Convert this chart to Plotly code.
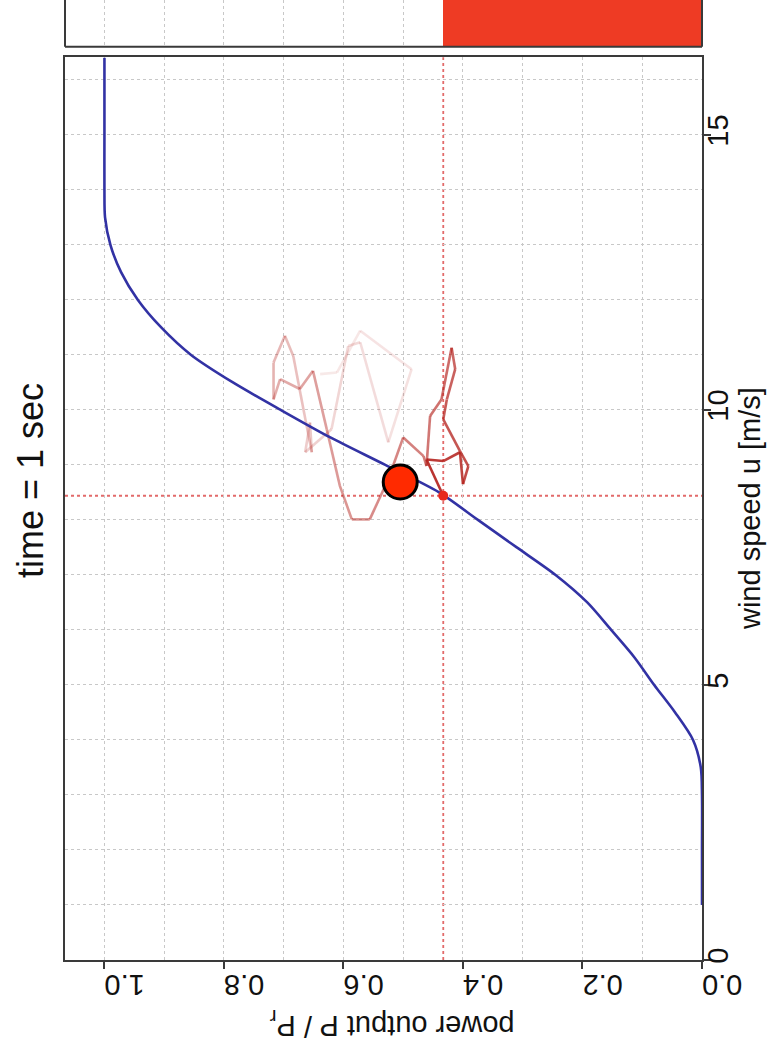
import plotly.graph_objects as go

# Turbine power curve: wind speed [m/s] vs normalised power output P / P_r
curve_wind = [1, 2, 3, 3.5, 4, 4.5, 5, 5.5, 6, 6.5, 7, 7.5, 8, 8.5, 9, 9.5,
              10, 10.5, 11, 11.5, 12, 12.5, 13, 13.5, 14, 15, 16, 16.4]
curve_power = [0, 0, 0, 0.002, 0.015, 0.045, 0.08, 0.113, 0.152, 0.192, 0.245, 0.31,
               0.375, 0.44, 0.53, 0.622, 0.705, 0.785, 0.855, 0.905, 0.944, 0.972,
               0.99, 0.999, 1.0, 1.0, 1.0, 1.0]

# Recent operating trajectory, oldest sample first
trail_wind = [10.65, 10.68, 11.44, 10.74, 9.41, 11.23, 11.16, 9.65, 9.23, 9.77,
              9.23, 10.01, 10.98, 11.35, 10.86, 10.19, 10.56, 10.38, 10.71, 9.65,
              8.62, 8.01, 8.01, 8.74, 9.50, 9.16, 8.98, 9.89, 10.19, 11.13,
              10.74, 10.19, 9.83, 9.25, 8.98, 8.65, 9.23, 9.07, 9.10, 8.44]
trail_power = [0.639, 0.611, 0.572, 0.486, 0.525, 0.572, 0.592, 0.620, 0.664, 0.656,
               0.653, 0.667, 0.684, 0.698, 0.717, 0.717, 0.706, 0.673, 0.651, 0.628,
               0.606, 0.586, 0.556, 0.525, 0.500, 0.466, 0.461, 0.455, 0.436, 0.419,
               0.413, 0.427, 0.433, 0.405, 0.391, 0.400, 0.405, 0.433, 0.461, 0.433]

# Current state
wind_now = 8.44
power_now = 0.433
measured_wind = 8.69
measured_power = 0.505

POWER_RANGE = [1.066, 0.0]
WIND_RANGE = [0.0, 16.41]
PANEL_TOP = 0.9403
GAUGE_BOTTOM = 0.9514
GRID = "#c8c8c8"
FRAME = "#3a3a3a"
FONT = "Liberation Sans, Arial, sans-serif"

fig = go.Figure()

# Power level gauge above the panel
fig.add_trace(go.Bar(
    x=[power_now], y=[0.5], orientation="h", width=1.0,
    marker=dict(color="#ee3b24", line=dict(width=0)),
    xaxis="x2", yaxis="y2", showlegend=False, hoverinfo="skip",
))

# Fading trail: one segment per step, opacity grows towards the present
n = len(trail_wind)
for i in range(n - 1):
    a = 0.10 + 0.82 * (i / (n - 2)) ** 1.2
    fig.add_trace(go.Scatter(
        x=trail_power[i:i + 2], y=trail_wind[i:i + 2], mode="lines",
        line=dict(color=f"rgba(180,35,30,{a:.3f})", width=2.6),
        showlegend=False, hoverinfo="skip",
    ))

# Power curve
fig.add_trace(go.Scatter(
    x=curve_power, y=curve_wind, mode="lines",
    line=dict(color="#3232a4", width=2.6, shape="spline", smoothing=0.8),
    showlegend=False,
))

# Operating point on the curve
fig.add_trace(go.Scatter(
    x=[power_now], y=[wind_now], mode="markers",
    marker=dict(size=10, color="#e8281c"), showlegend=False,
))

# Measured point
fig.add_trace(go.Scatter(
    x=[measured_power], y=[measured_wind], mode="markers",
    marker=dict(size=34, color="#ff2a00", line=dict(color="black", width=3)),
    showlegend=False,
))

shapes = [
    dict(type="line", xref="x", yref="paper", x0=power_now, x1=power_now, y0=0, y1=PANEL_TOP,
         line=dict(color="#e26a6a", width=1.8, dash="dot"), layer="below"),
    dict(type="line", xref="paper", yref="y", x0=0, x1=1, y0=wind_now, y1=wind_now,
         line=dict(color="#e26a6a", width=1.8, dash="dot"), layer="below"),
    # gauge frame (left, right, bottom)
    dict(type="line", xref="paper", yref="paper", x0=0, x1=0, y0=GAUGE_BOTTOM, y1=1.02,
         line=dict(color=FRAME, width=2)),
    dict(type="line", xref="paper", yref="paper", x0=1, x1=1, y0=GAUGE_BOTTOM, y1=1.02,
         line=dict(color=FRAME, width=2)),
    dict(type="line", xref="paper", yref="paper", x0=0, x1=1, y0=GAUGE_BOTTOM, y1=GAUGE_BOTTOM,
         line=dict(color=FRAME, width=2)),
]

annotations = [
    dict(text="time = 1 sec", xref="paper", yref="paper", x=-0.055, y=0.5,
         textangle=-90, showarrow=False, xanchor="center", yanchor="middle",
         font=dict(size=36, color="#111", family=FONT)),
    dict(text="wind speed u [m/s]", xref="paper", yref="paper", x=1.0754, y=0.4698,
         textangle=-90, showarrow=False, xanchor="center", yanchor="middle",
         font=dict(size=29, color="#111", family=FONT)),
    dict(text="power output P / P<sub>r</sub>", xref="paper", yref="paper", x=0.513, y=-0.066,
         textangle=180, showarrow=False, xanchor="center", yanchor="middle",
         font=dict(size=29, color="#111", family=FONT)),
]

grid_common = dict(showgrid=True, gridcolor=GRID, gridwidth=1, griddash="dot", zeroline=False)

fig.update_layout(
    width=768, height=1055,
    margin=dict(l=65, r=66, t=0, b=95),
    paper_bgcolor="white", plot_bgcolor="white",
    font=dict(family=FONT, color="#111"),
    showlegend=False,
    xaxis=dict(
        domain=[0, 1], range=POWER_RANGE, anchor="y",
        tickmode="linear", tick0=0, dtick=0.2, tickformat=".1f",
        ticks="outside", ticklen=7, tickwidth=1.5, tickcolor=FRAME, tickangle=180,
        tickfont=dict(size=29, family=FONT, color="#111"),
        showline=True, mirror=True, linecolor=FRAME, linewidth=2,
        minor=dict(tick0=0, dtick=0.1, showgrid=True, gridcolor=GRID, griddash="dot", ticks=""),
        **grid_common,
    ),
    yaxis=dict(
        domain=[0, PANEL_TOP], range=WIND_RANGE, anchor="x", side="right",
        tickmode="linear", tick0=0, dtick=5,
        ticks="outside", ticklen=7, tickwidth=1.5, tickcolor=FRAME, tickangle=-90,
        tickfont=dict(size=29, family=FONT, color="#111"), ticklabelstandoff=-18,
        showline=True, mirror=True, linecolor=FRAME, linewidth=2,
        minor=dict(tick0=0, dtick=1, showgrid=True, gridcolor=GRID, griddash="dot", ticks=""),
        **grid_common,
    ),
    xaxis2=dict(
        domain=[0, 1], range=POWER_RANGE, anchor="y2", matches="x",
        tickmode="linear", tick0=0, dtick=0.1, showticklabels=False, ticks="",
        showline=False, **grid_common,
    ),
    yaxis2=dict(
        domain=[GAUGE_BOTTOM, 1], range=[0, 1], anchor="x2",
        showticklabels=False, ticks="", showgrid=False, zeroline=False, showline=False,
    ),
    bargap=0,
    shapes=shapes,
    annotations=annotations,
)

fig.write_html("out.html")
